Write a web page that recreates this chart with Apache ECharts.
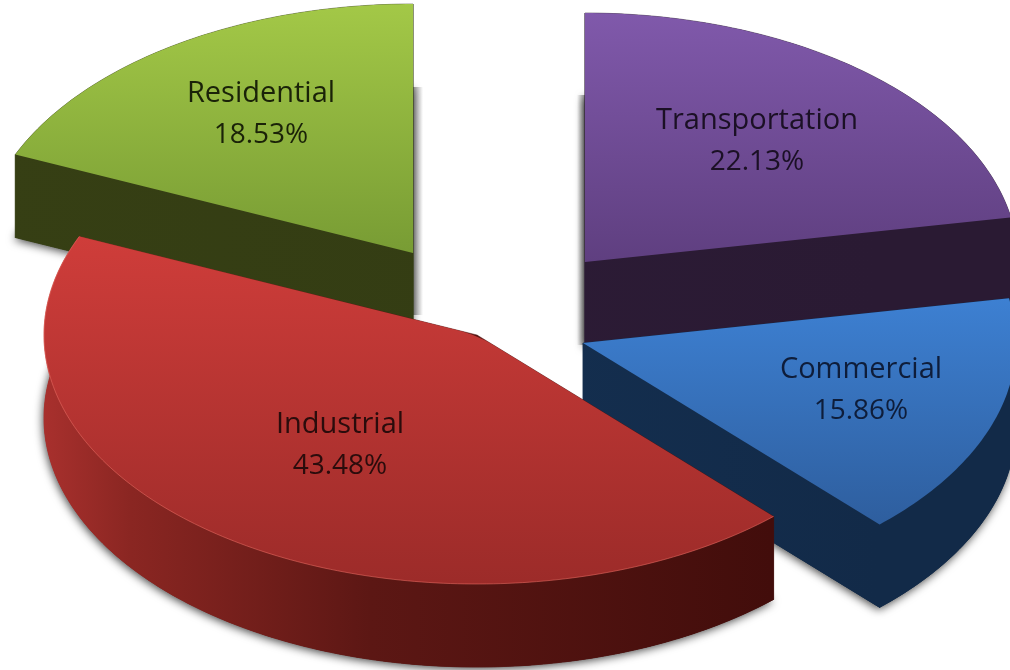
<!DOCTYPE html>
<html>
<head>
<meta charset="utf-8">
<style>html,body{margin:0;padding:0;background:#fff}#chart{width:1010px;height:670px}</style>
<script src="https://cdn.jsdelivr.net/npm/echarts@6/dist/echarts.min.js"></script>
</head>
<body>
<div id="chart"></div>
<script>
// Energy use by sector, clockwise from twelve o'clock
const sectors = ['Transportation', 'Commercial', 'Industrial', 'Residential'];
const shares = [22.13, 15.86, 43.48, 18.53];

// Tilted pie projection
const RX = 433, RY = 249, DEPTH = 83;
// Exploded apex of each wedge
const apexes = [[585, 262], [583, 343], [477, 335], [413, 253]];
// Label centre of each wedge, relative to its apex
const labelOffsets = [[172, -120], [278, 48], [-137, 111], [-152, -138]];
const apexRounding = [0, 0, 20, 0];
// Back-edge soft shadow: [x offset, width, y start, y end, fade direction], relative to the apex
const rearShadows = [[-8, 8, -167, 83, -1], null, null, [0, 10, -166, 62, 1]];

const topColors = [['#8059ab', 12, '#5f3f80', 262], ['#3d80d2', 298, '#2e5e9e', 525],
  ['#cf3d3a', 235, '#9c2b29', 585], ['#a3c847', 5, '#789c34', 253]];
const wallStops = [
  [[0, '#2d1c37'], [1, '#2a1a33']],
  [[0, '#163356'], [1, '#122a48']],
  [[0, '#a8302d'], [0.12, '#8a2622'], [0.45, '#5c1714'], [1, '#420d0b']],
  [[0, '#363f14'], [1, '#333c13']]
];
const labelColors = ['#1b1025', '#0e1d3a', '#2a0c0c', '#1a2208'];

// Clockwise angle (radians from north) where each wedge begins
const startAngles = shares.reduce((acc, v, i) => {
  acc.push(i === 0 ? 0 : acc[i - 1] + shares[i - 1] / 100 * Math.PI * 2);
  return acc;
}, []);

function rimPoint(apex, a, dy) {
  return [apex[0] + RX * Math.sin(a), apex[1] - RY * Math.cos(a) + (dy || 0)];
}
function arcPoints(apex, a0, a1, dy) {
  const n = Math.max(4, Math.ceil((a1 - a0) * 60));
  const pts = [];
  for (let k = 0; k <= n; k++) pts.push(rimPoint(apex, a0 + (a1 - a0) * k / n, dy));
  return pts;
}
// Apex vertices, optionally softened with a quadratic corner
function apexCorner(apex, first, last, r, dy) {
  const p = [apex[0], apex[1] + dy];
  if (!r) return [p];
  const towards = (q) => {
    const dx = q[0] - p[0], dv = q[1] - p[1], len = Math.hypot(dx, dv);
    return [p[0] + dx / len * r, p[1] + dv / len * r];
  };
  const a = towards(last), b = towards(first), pts = [];
  for (let t = 0; t <= 1.0001; t += 0.125) {
    const u = 1 - t;
    pts.push([u * u * a[0] + 2 * u * t * p[0] + t * t * b[0], u * u * a[1] + 2 * u * t * p[1] + t * t * b[1]]);
  }
  return pts;
}

function renderWedge(params, api) {
  const i = params.dataIndex;
  const apex = apexes[i];
  const a0 = startAngles[i];
  const a1 = a0 + api.value(1) / 100 * Math.PI * 2;
  const children = [];

  const rear = rearShadows[i];
  if (rear) {
    const c0 = rear[4] > 0 ? 'rgba(60,60,60,0.55)' : 'rgba(60,60,60,0)';
    const c1 = rear[4] > 0 ? 'rgba(60,60,60,0)' : 'rgba(60,60,60,0.55)';
    children.push({
      type: 'rect',
      shape: { x: apex[0] + rear[0], y: apex[1] + rear[2], width: rear[1], height: rear[3] - rear[2] },
      style: { fill: new echarts.graphic.LinearGradient(0, 0, 1, 0, [{ offset: 0, color: c0 }, { offset: 1, color: c1 }]) }
    });
  }

  // Extruded body: lower cap, both cut faces and the outer rim band
  const arc = arcPoints(apex, a0, a1, 0);
  const arcLow = arcPoints(apex, a0, a1, DEPTH);
  const wallFill = new echarts.graphic.LinearGradient(
    apex[0] - RX, 0, apex[0] + RX * 0.68, 0,
    wallStops[i].map((s) => ({ offset: s[0], color: s[1] })), true);
  const lowerCap = [[apex[0], apex[1] + DEPTH]].concat(arcLow);
  const bodyParts = [
    lowerCap,
    [apex, arc[0], arcLow[0], [apex[0], apex[1] + DEPTH]],
    [apex, arc[arc.length - 1], arcLow[arcLow.length - 1], [apex[0], apex[1] + DEPTH]],
    arc.concat(arcLow.slice().reverse())
  ];
  // Only the lower cap throws a shadow, so it falls below and beside the wedge
  children.push({
    type: 'polygon', shape: { points: lowerCap },
    style: { fill: wallFill, shadowBlur: 10, shadowColor: 'rgba(0,0,0,0.75)', shadowOffsetX: -1, shadowOffsetY: 2 }
  });
  bodyParts.forEach((pts) => children.push({
    type: 'polygon', shape: { points: pts },
    style: { fill: wallFill, stroke: wallFill, lineWidth: 0.5 }
  }));

  // Upper face
  const tc = topColors[i];
  const face = apexCorner(apex, arc[0], arc[arc.length - 1], apexRounding[i], 0).concat(arc);
  children.push({
    type: 'polygon', shape: { points: face },
    style: {
      fill: new echarts.graphic.LinearGradient(0, tc[1], 0, tc[3],
        [{ offset: 0, color: tc[0] }, { offset: 1, color: tc[2] }], true)
    }
  });
  if (apexRounding[i]) {
    // Lit rim along the large wedge's outer edge
    children.push({
      type: 'polyline', shape: { points: arc },
      style: { fill: null, stroke: 'rgba(235,110,100,0.55)', lineWidth: 1 }
    });
  }

  const off = labelOffsets[i];
  const lines = [api.value(0), api.value(1).toFixed(2) + '%'];
  lines.forEach((text, k) => children.push({
    type: 'text',
    style: {
      text: text, x: apex[0] + off[0], y: apex[1] + off[1] + (k === 0 ? -21 : 20),
      font: (k === 0 ? 29 : 28) + 'px "Open Sans", Lato, sans-serif',
      fill: labelColors[i], textAlign: 'center', textVerticalAlign: 'middle'
    }
  }));
  return { type: 'group', children: children };
}

// Painter's order: wedges further back come first
const paintOrder = [0, 1, 3, 2];

const chart = echarts.init(document.getElementById('chart'), null, { renderer: 'canvas' });
chart.setOption({
  backgroundColor: '#ffffff',
  animation: false,
  series: paintOrder.map((idx) => ({
    type: 'custom',
    coordinateSystem: 'none',
    silent: true,
    clip: false,
    renderItem: (params, api) => {
      return renderWedge({ dataIndex: idx }, api);
    },
    data: [[sectors[idx], shares[idx]]],
    dimensions: [{ name: 'sector', type: 'ordinal' }, { name: 'share', type: 'number' }]
  }))
});
</script>
</body>
</html>
